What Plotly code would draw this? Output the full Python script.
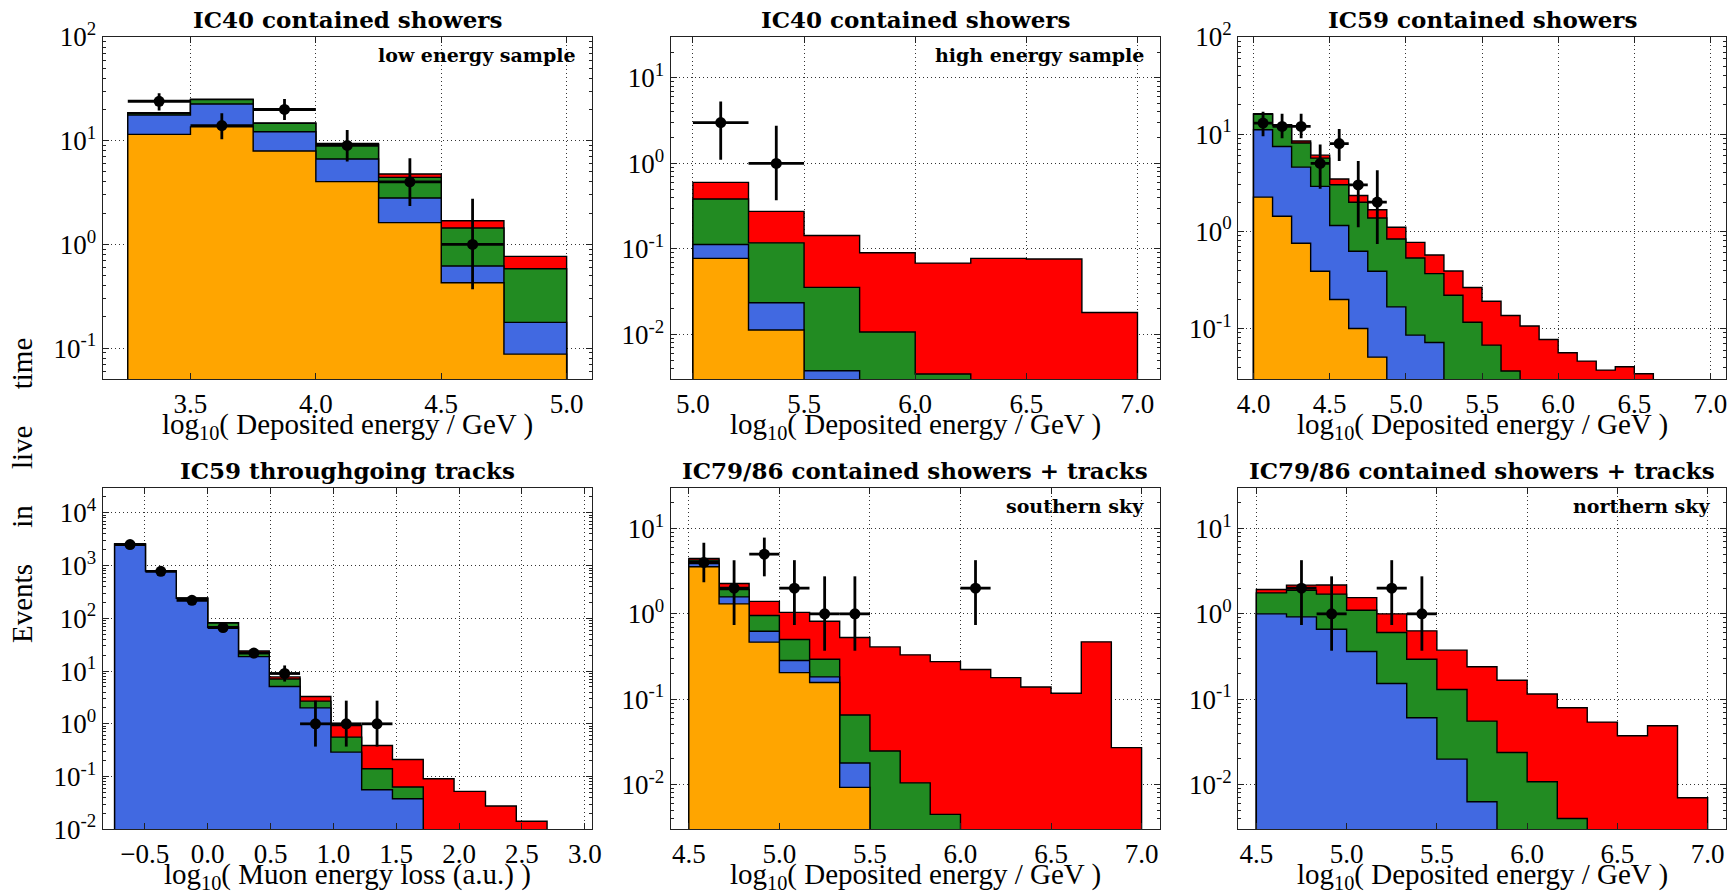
import math
import plotly.graph_objects as go

# ---------------- data (stack tops) ----------------
# Panel 1: IC40 contained showers, low energy sample
p1_edges = [3.25, 3.5, 3.75, 4.0, 4.25, 4.5, 4.75, 5.0]
p1_orange = [11.5, 13.6, 7.95, 4.03, 1.62, 0.427, 0.0875]
p1_blue = [17.7, 22.6, 12.2, 6.65, 2.8, 0.618, 0.177]
p1_green = [18.4, 24.9, 14.7, 9.15, 4.43, 1.44, 0.582]
p1_red = [18.6, 25.1, 14.8, 9.4, 4.77, 1.69, 0.766]
p1_data_x = [3.375, 3.625, 3.875, 4.125, 4.375, 4.625]
p1_data_y = [24, 14, 20, 9, 4, 1]
p1_data_lo = [19.5, 10.3, 15.8, 6.3, 2.34, 0.37]
p1_data_hi = [28.6, 18.4, 25.2, 12.7, 6.78, 2.75]
p1_data_xerr = 0.125

# Panel 2: IC40 contained showers, high energy sample
p2_edges = [5.0, 5.25, 5.5, 5.75, 6.0, 6.25, 6.5, 6.75, 7.0]
p2_orange = [0.0776, 0.0113, 0, 0, 0, 0, 0, 0]
p2_blue = [0.113, 0.0235, 0.00378, 0, 0, 0, 0, 0]
p2_green = [0.383, 0.118, 0.0356, 0.0107, 0.00346, 0, 0, 0]
p2_red = [0.60, 0.275, 0.144, 0.0904, 0.0684, 0.0776, 0.0765, 0.0181]
p2_data_x = [5.125, 5.375]
p2_data_y = [3, 1]
p2_data_lo = [1.10, 0.37]
p2_data_hi = [5.30, 2.75]
p2_data_xerr = 0.125

# Panel 3: IC59 contained showers
p3_edges = [4.0, 4.125, 4.25, 4.375, 4.5, 4.625, 4.75, 4.875, 5.0, 5.125, 5.25,
            5.375, 5.5, 5.625, 5.75, 5.875, 6.0, 6.125, 6.25, 6.375, 6.5, 6.625]
p3_orange = [2.25, 1.43, 0.753, 0.388, 0.199, 0.1, 0.0507,
             0, 0, 0, 0, 0, 0, 0, 0, 0, 0, 0, 0, 0, 0]
p3_blue = [11.1, 7.47, 4.58, 2.9, 1.15, 0.623, 0.388, 0.167, 0.0855, 0.0718,
           0, 0, 0, 0, 0, 0, 0, 0, 0, 0, 0]
p3_green = [16.0, 12.3, 8.1, 5.67, 3.02, 1.99, 1.37, 0.834, 0.532, 0.367, 0.22,
            0.116, 0.0674, 0.0365, 0, 0, 0, 0, 0, 0, 0]
p3_red = [16.2, 12.5, 8.5, 6.08, 3.45, 2.34, 1.67, 1.1, 0.77, 0.571, 0.391,
          0.264, 0.191, 0.136, 0.106, 0.0771, 0.0562, 0.0462, 0.0373, 0.0404, 0.0342]
p3_data_x = [4.0625, 4.1875, 4.3125, 4.4375, 4.5625, 4.6875, 4.8125]
p3_data_y = [13, 12, 12, 5, 8, 3, 2]
p3_data_lo = [9.5, 9.1, 9.1, 2.75, 5.30, 1.10, 0.74]
p3_data_hi = [17.0, 16.2, 16.2, 7.81, 11.3, 5.30, 4.25]
p3_data_xerr = 0.0625

# Panel 4: IC59 throughgoing tracks
p4_edges = [-0.74, -0.495, -0.25, 0.0, 0.245, 0.49, 0.735, 0.98, 1.225, 1.47,
            1.715, 1.96, 2.21, 2.455, 2.70]
p4_blue = [2550, 787, 239, 67.6, 18.8, 5.09, 2.01, 0.291, 0.0563, 0.038, 0, 0, 0, 0]
p4_green = [2560, 790, 241, 81.6, 22.0, 7.1, 2.69, 0.56, 0.141, 0.0633, 0, 0, 0, 0]
p4_red = [2570, 795, 243, 82.5, 24.1, 7.76, 3.29, 0.93, 0.389, 0.211, 0.091,
          0.0524, 0.0277, 0.0142]
p4_data_x = [-0.6175, -0.3725, -0.125, 0.1225, 0.3675, 0.6125, 0.8575, 1.1025, 1.3475]
p4_data_y = [2500, 780, 220, 67, 22, 9, 1, 1, 1]
p4_data_lo = [2450, 752, 205, 59, 17.5, 6.33, 0.37, 0.37, 0.37]
p4_data_hi = [2550, 808, 235, 75, 27, 12.79, 2.75, 2.75, 2.75]
p4_data_xerr = 0.1225

# Panel 5: IC79/86 contained showers + tracks, southern sky
p5_edges = [4.5, 4.667, 4.833, 5.0, 5.167, 5.333, 5.5, 5.667, 5.833, 6.0,
            6.167, 6.333, 6.5, 6.667, 6.833, 7.0]
p5_orange = [3.56, 1.31, 0.466, 0.205, 0.157, 0.0093, 0, 0, 0, 0, 0, 0, 0, 0, 0]
p5_blue = [3.89, 1.58, 0.626, 0.284, 0.183, 0.0179, 0, 0, 0, 0, 0, 0, 0, 0, 0]
p5_green = [4.26, 1.93, 0.956, 0.50, 0.294, 0.0655, 0.0248, 0.0105, 0.00449,
            0, 0, 0, 0, 0, 0]
p5_red = [4.45, 2.27, 1.40, 1.04, 0.82, 0.528, 0.41, 0.331, 0.276, 0.223,
          0.179, 0.139, 0.1175, 0.47, 0.0271]
p5_data_x = [4.583, 4.75, 4.917, 5.083, 5.25, 5.417, 6.083]
p5_data_y = [4, 2, 5, 2, 1, 1, 2]
p5_data_lo = [2.34, 0.74, 2.75, 0.74, 0.37, 0.37, 0.74]
p5_data_hi = [6.78, 4.25, 7.81, 4.25, 2.75, 2.75, 4.25]
p5_data_xerr = 0.0833

# Panel 6: IC79/86 contained showers + tracks, northern sky
p6_edges = [4.5, 4.667, 4.833, 5.0, 5.167, 5.333, 5.5, 5.667, 5.833, 6.0,
            6.167, 6.333, 6.5, 6.667, 6.833, 7.0]
p6_blue = [1.0, 0.922, 0.661, 0.362, 0.153, 0.0607, 0.0199, 0.0063, 0, 0, 0, 0, 0, 0, 0]
p6_green = [1.76, 1.89, 1.70, 1.10, 0.605, 0.294, 0.13, 0.0554, 0.0238, 0.0108,
            0.00402, 0, 0, 0, 0]
p6_red = [1.93, 2.17, 2.18, 1.55, 1.0, 0.632, 0.376, 0.24, 0.167, 0.115, 0.0794,
          0.054, 0.0373, 0.0489, 0.00702]
p6_data_x = [4.75, 4.917, 5.25, 5.417]
p6_data_y = [2, 1, 2, 1]
p6_data_lo = [0.74, 0.37, 0.74, 0.37]
p6_data_hi = [4.25, 2.75, 4.25, 2.75]
p6_data_xerr = 0.0833

titles = ["IC40 contained showers", "IC40 contained showers", "IC59 contained showers",
          "IC59 throughgoing tracks", "IC79/86 contained showers + tracks",
          "IC79/86 contained showers + tracks"]
subtitles = ["low energy sample", "high energy sample", None, None,
             "southern sky", "northern sky"]
xlabel_dep = "log<sub>10</sub>( Deposited energy / GeV )"
xlabel_muon = "log<sub>10</sub>( Muon energy loss (a.u.) )"
GAP = "&nbsp;&nbsp;&nbsp;&nbsp; "
ylabel = "Events" + GAP + "in" + GAP + "live" + GAP + "time"

# ---------------- styling ----------------
COL = {"red": "#FF0000", "green": "#228B22", "blue": "#4169E1", "orange": "#FFA500"}
W, H = 1731, 895
# panel boxes in screen pixels (page margin removed by post_script)
col_px = [(102.7, 591.7), (670.7, 1159.7), (1238.3, 1725.7)]
row_px = [(37.0, 379.3), (487.7, 829.3)]
xlab_gap = [47, 47]
TICKFONT = dict(family="Liberation Serif, serif", size=27, color="black")
LABFONT = dict(family="Liberation Serif, serif", size=29, color="black")
TITLEFONT = dict(family="DejaVu Serif, serif", size=23, color="black")
SUBFONT = dict(family="DejaVu Serif, serif", size=19, color="black")
FLOOR = 1e-6


def px_x(x):
    return min(1.0, max(0.0, x / W))


def px_y(y):
    return min(1.0, max(0.0, 1 - y / H))


panels = [
    dict(edges=p1_edges, layers=[("red", p1_red), ("green", p1_green), ("blue", p1_blue), ("orange", p1_orange)],
         dx=p1_data_x, dy=p1_data_y, lo=p1_data_lo, hi=p1_data_hi, xe=p1_data_xerr,
         xr=[3.15, 5.1], yr=[0.05, 100], xt=[3.5, 4.0, 4.5, 5.0], yt=[-1, 0, 1, 2], xl=xlabel_dep),
    dict(edges=p2_edges, layers=[("red", p2_red), ("green", p2_green), ("blue", p2_blue), ("orange", p2_orange)],
         dx=p2_data_x, dy=p2_data_y, lo=p2_data_lo, hi=p2_data_hi, xe=p2_data_xerr,
         xr=[4.9, 7.1], yr=[0.003, 30], xt=[5.0, 5.5, 6.0, 6.5, 7.0], yt=[-2, -1, 0, 1], xl=xlabel_dep),
    dict(edges=p3_edges, layers=[("red", p3_red), ("green", p3_green), ("blue", p3_blue), ("orange", p3_orange)],
         dx=p3_data_x, dy=p3_data_y, lo=p3_data_lo, hi=p3_data_hi, xe=p3_data_xerr,
         xr=[3.9, 7.1], yr=[0.03, 100], xt=[4.0, 4.5, 5.0, 5.5, 6.0, 6.5, 7.0], yt=[-1, 0, 1, 2], xl=xlabel_dep),
    dict(edges=p4_edges, layers=[("red", p4_red), ("green", p4_green), ("blue", p4_blue)],
         dx=p4_data_x, dy=p4_data_y, lo=p4_data_lo, hi=p4_data_hi, xe=p4_data_xerr,
         xr=[-0.835, 3.055], yr=[0.01, 30000], xt=[-0.5, 0.0, 0.5, 1.0, 1.5, 2.0, 2.5, 3.0],
         yt=[-2, -1, 0, 1, 2, 3, 4], xl=xlabel_muon),
    dict(edges=p5_edges, layers=[("red", p5_red), ("green", p5_green), ("blue", p5_blue), ("orange", p5_orange)],
         dx=p5_data_x, dy=p5_data_y, lo=p5_data_lo, hi=p5_data_hi, xe=p5_data_xerr,
         xr=[4.4, 7.1], yr=[0.003, 30], xt=[4.5, 5.0, 5.5, 6.0, 6.5, 7.0], yt=[-2, -1, 0, 1], xl=xlabel_dep),
    dict(edges=p6_edges, layers=[("red", p6_red), ("green", p6_green), ("blue", p6_blue)],
         dx=p6_data_x, dy=p6_data_y, lo=p6_data_lo, hi=p6_data_hi, xe=p6_data_xerr,
         xr=[4.4, 7.1], yr=[0.003, 30], xt=[4.5, 5.0, 5.5, 6.0, 6.5, 7.0], yt=[-2, -1, 0, 1], xl=xlabel_dep),
]


def step_polygon(edges, vals):
    xs, ys = [edges[0]], [FLOOR]
    for i, v in enumerate(vals):
        v = v if v > 0 else FLOOR
        xs += [edges[i], edges[i + 1]]
        ys += [v, v]
    xs.append(edges[-1])
    ys.append(FLOOR)
    xs.append(edges[0])
    ys.append(FLOOR)
    return xs, ys


fig = go.Figure()
layout = {}
annotations = []

for k, p in enumerate(panels):
    r, c = divmod(k, 3)
    n = "" if k == 0 else str(k + 1)
    xa, ya = "x" + n, "y" + n
    x0, x1 = col_px[c]
    t0, t1 = row_px[r]
    xdom = [px_x(x0), px_x(x1)]
    ydom = [px_y(t1), px_y(t0)]

    for cname, vals in p["layers"]:
        xs, ys = step_polygon(p["edges"], vals)
        fig.add_trace(go.Scatter(x=xs, y=ys, mode="lines", fill="toself",
                                 fillcolor=COL[cname], line=dict(color="black", width=1.4),
                                 xaxis=xa, yaxis=ya, showlegend=False, hoverinfo="skip"))
    fig.add_trace(go.Scatter(
        x=p["dx"], y=p["dy"], mode="markers",
        marker=dict(color="black", size=11, symbol="circle"),
        error_x=dict(type="constant", value=p["xe"], color="black", thickness=2.8, width=0),
        error_y=dict(type="data", symmetric=False,
                     array=[h - y for h, y in zip(p["hi"], p["dy"])],
                     arrayminus=[y - l for l, y in zip(p["lo"], p["dy"])],
                     color="black", thickness=2.8, width=0),
        xaxis=xa, yaxis=ya, showlegend=False))

    common = dict(showline=True, linecolor="#222222", linewidth=1.3, mirror="ticks",
                  ticks="inside", tickcolor="#222222", ticklen=6, tickwidth=1,
                  showgrid=True, gridcolor="rgba(0,0,0,0.8)", griddash="1px,3px", gridwidth=1,
                  zeroline=False, tickfont=TICKFONT, automargin=False)
    layout["xaxis" + n] = dict(domain=xdom, anchor=ya, range=p["xr"], tickmode="array",
                               tickvals=p["xt"], ticktext=[f"{v:.1f}".replace("-", "\u2212") for v in p["xt"]],
                               **common)
    layout["yaxis" + n] = dict(domain=ydom, anchor=xa, type="log",
                               range=[math.log10(p["yr"][0]), math.log10(p["yr"][1])],
                               tickmode="array", tickvals=[10 ** e for e in p["yt"]],
                               ticktext=[f"10<sup>{e}</sup>" for e in p["yt"]],
                               minor=dict(ticks="inside", ticklen=3, tickcolor="#222222",
                                          dtick="D1", showgrid=False),
                               **common)
    # title
    annotations.append(dict(text="<b>" + titles[k] + "</b>", xref="paper", yref="paper",
                            x=px_x((x0 + x1) / 2), y=px_y(t0 - 17), xanchor="center",
                            yanchor="middle", showarrow=False, font=TITLEFONT))
    if subtitles[k]:
        annotations.append(dict(text="<b>" + subtitles[k] + "</b>", xref="paper", yref="paper",
                                x=px_x(x1 - 14), y=px_y(t0 + 18), xanchor="right",
                                yanchor="middle", showarrow=False, font=SUBFONT))
    annotations.append(dict(text=p["xl"], xref="paper", yref="paper",
                            x=px_x((x0 + x1) / 2), y=px_y(t1 + xlab_gap[r]), xanchor="center",
                            yanchor="middle", showarrow=False, font=LABFONT))

annotations.append(dict(text=ylabel, xref="paper", yref="paper", x=px_x(22), y=px_y(491),
                        xanchor="center", yanchor="middle", textangle=-90, showarrow=False,
                        font=LABFONT))

fig.update_layout(width=W, height=H, margin=dict(l=0, r=0, t=0, b=0, autoexpand=False),
                  paper_bgcolor="white", plot_bgcolor="white",
                  annotations=annotations, **layout)

fig.write_html("out.html", config={"displayModeBar": False},
               post_script="document.body.style.margin='0';document.body.style.overflow='hidden';")
